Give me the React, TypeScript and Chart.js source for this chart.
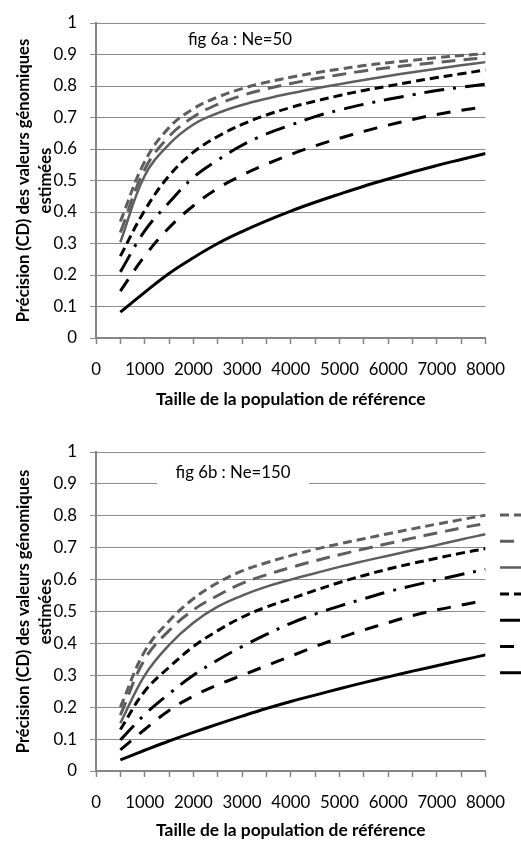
import React, { useEffect, useRef } from 'react';
import { Chart, registerables } from 'chart.js';

Chart.register(...registerables);

// ---------- data ----------
const xValues = [500, 1000, 1500, 2000, 2500, 3000, 3500, 4000, 4500, 5000, 5500, 6000, 6500, 7000, 7500, 8000];

// fig 6a : Ne=50
const a1 = [0.37, 0.56, 0.668, 0.728, 0.765, 0.792, 0.812, 0.828, 0.842, 0.854, 0.865, 0.874, 0.882, 0.89, 0.897, 0.903];
const a2 = [0.335, 0.535, 0.64, 0.702, 0.742, 0.77, 0.791, 0.808, 0.823, 0.836, 0.848, 0.858, 0.867, 0.875, 0.883, 0.89];
const a3 = [0.304, 0.515, 0.615, 0.678, 0.714, 0.74, 0.76, 0.777, 0.792, 0.806, 0.819, 0.832, 0.844, 0.855, 0.866, 0.876];
const a4 = [0.26, 0.405, 0.515, 0.59, 0.64, 0.678, 0.708, 0.732, 0.752, 0.77, 0.786, 0.8, 0.814, 0.827, 0.839, 0.851];
const a5 = [0.21, 0.34, 0.43, 0.51, 0.565, 0.612, 0.648, 0.676, 0.703, 0.724, 0.742, 0.758, 0.772, 0.786, 0.796, 0.806];
const a6 = [0.149, 0.26, 0.35, 0.42, 0.475, 0.517, 0.552, 0.583, 0.61, 0.634, 0.656, 0.676, 0.694, 0.71, 0.723, 0.735];
const a7 = [0.082, 0.145, 0.205, 0.255, 0.3, 0.338, 0.372, 0.403, 0.431, 0.457, 0.482, 0.505, 0.527, 0.548, 0.567, 0.586];

// fig 6b : Ne=150
const b1 = [0.2, 0.375, 0.47, 0.54, 0.59, 0.627, 0.653, 0.675, 0.695, 0.712, 0.728, 0.744, 0.759, 0.774, 0.788, 0.802];
const b2 = [0.175, 0.35, 0.44, 0.505, 0.55, 0.588, 0.615, 0.638, 0.659, 0.678, 0.696, 0.713, 0.73, 0.746, 0.762, 0.776];
const b3 = [0.15, 0.3, 0.395, 0.465, 0.515, 0.55, 0.578, 0.6, 0.62, 0.64, 0.658, 0.675, 0.692, 0.708, 0.726, 0.742];
const b4 = [0.13, 0.25, 0.325, 0.39, 0.44, 0.482, 0.514, 0.54, 0.566, 0.591, 0.613, 0.633, 0.651, 0.667, 0.683, 0.697];
const b5 = [0.097, 0.177, 0.242, 0.3, 0.348, 0.39, 0.428, 0.463, 0.492, 0.517, 0.54, 0.562, 0.581, 0.599, 0.616, 0.632];
const b6 = [0.066, 0.13, 0.19, 0.235, 0.27, 0.3, 0.33, 0.36, 0.39, 0.417, 0.442, 0.465, 0.487, 0.505, 0.52, 0.535];
const b7 = [0.035, 0.065, 0.094, 0.121, 0.147, 0.172, 0.196, 0.218, 0.238, 0.258, 0.277, 0.295, 0.313, 0.33, 0.347, 0.364];

const seriesLabels = ['courbe 1', 'courbe 2', 'courbe 3', 'courbe 4', 'courbe 5', 'courbe 6', 'courbe 7'];
const xMin = 0;
const xMax = 8000;
const xTickStep = 500;
const xLabelStep = 1000;
const yMin = 0;
const yMax = 1;
const yTickStep = 0.1;

const xAxisTitle = 'Taille de la population de référence';
const yAxisTitle = ['Précision (CD) des valeurs génomiques', 'estimées'];
const titleA = 'fig 6a : Ne=50';
const titleB = 'fig 6b : Ne=150';

// ---------- styles ----------
const GRAY = '#5e5e5e';
const BLACK = '#000000';
const AXIS = '#858585';
const GRID = '#8c8c8c';
const FONT = 'Lato';
const TICK_SIZE = 16.8;
const YTITLE_SIZE = 16.6;
const XTITLE_SIZE = 17.4;

const seriesStyles = [
  { color: GRAY, dash: [9, 5], width: 3 },
  { color: GRAY, dash: [14, 8], width: 3 },
  { color: GRAY, dash: [] as number[], width: 2.5 },
  { color: BLACK, dash: [9, 5], width: 3 },
  { color: BLACK, dash: [20, 9, 3, 9], width: 3 },
  { color: BLACK, dash: [14, 11], width: 3 },
  { color: BLACK, dash: [] as number[], width: 3 },
];

type PanelProps = {
  top: number;
  height: number;
  padTop: number;
  padRight: number;
  axisHeight: number;
  xTickPad: number;
  xTitlePadBottom: number;
  title: string;
  box: { x: number; w: number; cy: number; tx: number };
  series: number[][];
  legend?: { x: number; y0: number; step: number };
};

function Panel(props: PanelProps) {
  const ref = useRef<HTMLCanvasElement>(null);
  useEffect(() => {
    const canvas = ref.current;
    if (!canvas) return;
    const { box, legend, title } = props;

    const overlay = {
      id: 'overlay',
      beforeDatasetsDraw(chart: any) {
        const ctx = chart.ctx;
        ctx.save();
        ctx.fillStyle = '#ffffff';
        ctx.fillRect(box.x, box.cy - 13, box.w, 26);
        ctx.fillStyle = '#000000';
        ctx.font = `16.8px ${FONT}`;
        ctx.textAlign = 'center';
        ctx.textBaseline = 'middle';
        ctx.fillText(title, box.tx, box.cy);
        ctx.restore();
      },
      afterDraw(chart: any) {
        if (!legend) return;
        const ctx = chart.ctx;
        ctx.save();
        seriesStyles.forEach((s, i) => {
          const y = legend.y0 + i * legend.step;
          ctx.beginPath();
          ctx.strokeStyle = s.color;
          ctx.lineWidth = s.width;
          ctx.lineCap = 'butt';
          ctx.setLineDash(s.dash);
          ctx.moveTo(legend.x, y);
          ctx.lineTo(legend.x + 40, y);
          ctx.stroke();
        });
        ctx.restore();
      },
    };

    const chart = new Chart(canvas, {
      type: 'line',
      data: {
        datasets: props.series.map((vals, i) => ({
          label: seriesLabels[i],
          data: xValues.map((x, j) => ({ x, y: vals[j] })),
          borderColor: seriesStyles[i].color,
          borderWidth: seriesStyles[i].width,
          borderDash: seriesStyles[i].dash,
          borderCapStyle: 'butt',
          pointRadius: 0,
          pointHoverRadius: 0,
          fill: false,
          tension: 0.4,
        })),
      },
      options: {
        responsive: false,
        animation: false,
        devicePixelRatio: 1,
        events: [],
        layout: { padding: { top: props.padTop, right: props.padRight, bottom: 0, left: 0 } },
        plugins: { legend: { display: false }, tooltip: { enabled: false } },
        scales: {
          x: {
            type: 'linear',
            min: xMin,
            max: xMax,
            ticks: {
              stepSize: xTickStep,
              autoSkip: false,
              maxRotation: 0,
              padding: props.xTickPad,
              color: '#000',
              font: { family: FONT, size: TICK_SIZE },
              callback: (v: any) => (Number(v) % xLabelStep === 0 ? String(v) : ''),
            },
            grid: { drawOnChartArea: false, drawTicks: true, tickLength: 6, tickColor: AXIS, tickWidth: 1.5 },
            border: { color: AXIS, width: 2 },
            title: {
              display: true,
              text: xAxisTitle,
              color: '#000',
              font: { family: FONT, size: XTITLE_SIZE, weight: 'bold', lineHeight: 1.2 },
              padding: { top: 0, bottom: props.xTitlePadBottom },
            },
            afterFit: (s: any) => {
              s.height = props.axisHeight;
            },
          },
          y: {
            min: yMin,
            max: yMax,
            ticks: {
              stepSize: yTickStep,
              padding: 13,
              color: '#000',
              font: { family: FONT, size: TICK_SIZE },
              callback: (v: any) => String(Math.round(Number(v) * 10) / 10),
            },
            grid: { color: GRID, lineWidth: 1, tickLength: 6 },
            border: { color: AXIS, width: 2 },
            title: {
              display: true,
              text: yAxisTitle,
              color: '#000',
              font: { family: FONT, size: YTITLE_SIZE, weight: 'bold', lineHeight: 1.36 },
              padding: { top: 12, bottom: 0 },
            },
            afterFit: (s: any) => {
              s.width = 96;
            },
          },
        },
      } as any,
      plugins: [overlay],
    });
    return () => chart.destroy();
  }, []);
  return (
    <canvas
      ref={ref}
      width={521}
      height={props.height}
      style={{ position: 'absolute', left: 0, top: props.top, display: 'block' }}
    />
  );
}

export default function App() {
  return (
    <div style={{ position: 'absolute', left: 0, top: 0, width: 521, height: 841, background: '#fff', overflow: 'hidden' }}>
      <Panel
        top={0}
        height={420}
        padTop={16}
        padRight={24}
        axisHeight={82}
        xTickPad={16}
        xTitlePadBottom={10}
        title={titleA}
        box={{ x: 166, w: 148, cy: 40, tx: 240 }}
        series={[a1, a2, a3, a4, a5, a6, a7]}
      />
      <Panel
        top={420}
        height={421}
        padTop={32}
        padRight={29}
        axisHeight={70}
        xTickPad={16}
        xTitlePadBottom={0.5}
        title={titleB}
        box={{ x: 157, w: 152, cy: 53, tx: 233 }}
        series={[b1, b2, b3, b4, b5, b6, b7]}
        legend={{ x: 500, y0: 95, step: 26.3 }}
      />
    </div>
  );
}
